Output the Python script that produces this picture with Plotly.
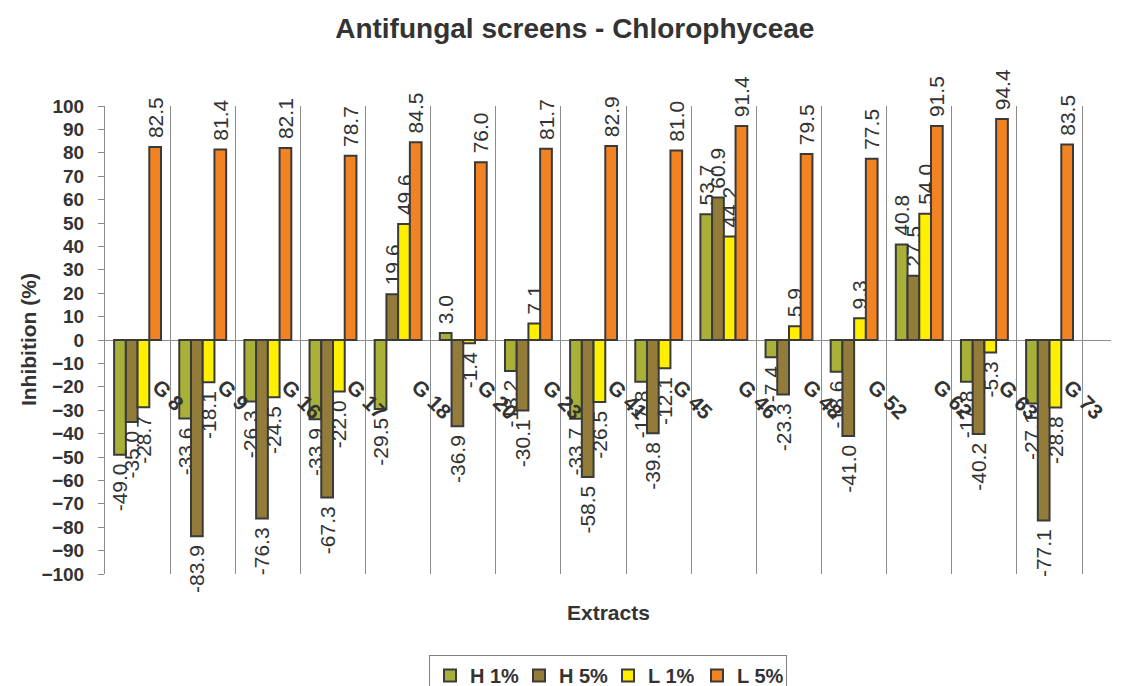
import plotly.graph_objects as go

# Extract codes and inhibition values (%) for each treatment
extracts = ["G 8", "G 9", "G 16", "G 17", "G 18", "G 20", "G 23", "G 41",
            "G 45", "G 46", "G 48", "G 52", "G 62", "G 63", "G 73"]
h_1 = [-49.0, -33.6, -26.3, -33.9, -29.5, 3.0, -13.2, -33.7,
       -17.8, 53.7, -7.4, -13.6, 40.8, -17.8, -27.1]
h_5 = [-35.0, -83.9, -76.3, -67.3, 19.6, -36.9, -30.1, -58.5,
       -39.8, 60.9, -23.3, -41.0, 27.5, -40.2, -77.1]
l_1 = [-28.7, -18.1, -24.5, -22.0, 49.6, -1.4, 7.1, -26.5,
       -12.1, 44.2, 5.9, 9.3, 54.0, -5.3, -28.8]
l_5 = [82.5, 81.4, 82.1, 78.7, 84.5, 76.0, 81.7, 82.9,
       81.0, 91.4, 79.5, 77.5, 91.5, 94.4, 83.5]

series = [
    ("H 1%", h_1, "#A9B038"),
    ("H 5%", h_5, "#937B3A"),
    ("L 1%", l_1, "#FFF000"),
    ("L 5%", l_5, "#F28322"),
]

FONT = "Liberation Sans, Arial, sans-serif"
TEXT = "#333333"
GRID = "#8C8C8C"
NBSP = "\u00a0"


def value_label(v):
    # pad the end of the label that faces the bar so it stands off a little
    s = f"{v:.1f}"
    return NBSP + s if v >= 0 else s + NBSP


fig = go.Figure()
for name, vals, color in series:
    fig.add_trace(go.Bar(
        name=name,
        x=extracts,
        y=vals,
        marker=dict(color=color, line=dict(color="#3A3A3A", width=2)),
        text=[value_label(v) for v in vals],
        texttemplate="%{text}",
        textposition="outside",
        textangle=-90,
        constraintext="none",
        cliponaxis=False,
        textfont=dict(family=FONT, size=21, color=TEXT),
    ))

# Category labels sit on the zero line, slanted
annotations = []
for cat in extracts:
    annotations.append(dict(
        x=cat, y=0, xref="x", yref="y",
        text=cat, showarrow=False, textangle=45,
        xanchor="left", yanchor="top", xshift=7, yshift=-32,
        font=dict(family=FONT, size=21, color=TEXT, weight="bold"),
    ))

annotations.append(dict(
    x=0.5, y=-0.083, xref="paper", yref="paper",
    text="Extracts", showarrow=False, xanchor="center", yanchor="middle",
    font=dict(family=FONT, size=21, color=TEXT, weight="bold"),
))
annotations.append(dict(
    x=-0.0765, y=0.5, xref="paper", yref="paper",
    text="Inhibition (%)", showarrow=False, textangle=-90,
    xanchor="center", yanchor="middle",
    font=dict(family=FONT, size=21, color=TEXT, weight="bold"),
))

fig.update_layout(
    width=1130, height=686,
    margin=dict(l=105, r=19, t=106, b=112, autoexpand=False),
    paper_bgcolor="white", plot_bgcolor="white",
    barmode="group", bargap=0.28, bargroupgap=0,
    title=dict(
        text="Antifungal screens - Chlorophyceae",
        x=0.467, xref="paper", xanchor="center",
        y=0.959, yref="container", yanchor="middle",
        font=dict(family=FONT, size=28, color=TEXT, weight="bold"),
    ),
    xaxis=dict(
        type="category", showticklabels=False, ticks="",
        tickson="boundaries", showgrid=True, gridcolor=GRID, gridwidth=1,
        showline=False, zeroline=False,
    ),
    yaxis=dict(
        range=[-100, 100], dtick=10, tick0=0,
        showgrid=False, showline=True, linecolor=GRID, linewidth=1,
        ticks="outside", ticklen=6, tickcolor=GRID, ticklabelstandoff=10,
        zeroline=True, zerolinecolor=GRID, zerolinewidth=1,
        tickfont=dict(family=FONT, size=19, color=TEXT, weight="bold"),
    ),
    legend=dict(
        orientation="h", x=0.5, xanchor="center", y=-0.173, yanchor="top",
        bordercolor="#808080", borderwidth=1,
        font=dict(family=FONT, size=20, color=TEXT, weight="bold"),
        itemwidth=30, entrywidth=44, traceorder="normal",
    ),
    annotations=annotations,
    showlegend=True,
)

fig.write_html("out.html")
